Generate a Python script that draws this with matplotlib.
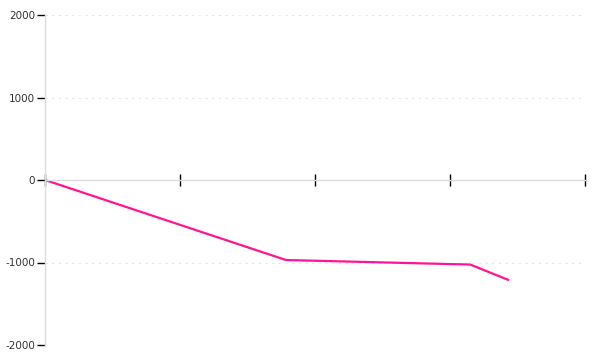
import matplotlib
matplotlib.use("Agg")
import matplotlib.pyplot as plt

# data
x_vals = [0, 1.785, 3.15, 3.43]
y_vals = [0, -970, -1025, -1210]
y_ticks = [-2000, -1000, 0, 1000, 2000]
x_ticks = [0, 1, 2, 3, 4]

fig = plt.figure(figsize=(6, 3.6), dpi=100)
ax = fig.add_axes([45 / 600, 1 - 345 / 360, 540 / 600, 330 / 360])

ax.plot(x_vals, y_vals, color="#ff1493", linewidth=1.6, solid_joinstyle="miter")

ax.set_xlim(0, 4)
ax.set_ylim(-2000, 2000)
ax.set_xticks(x_ticks)
ax.set_xticklabels([])
ax.set_yticks(y_ticks)
ax.set_yticklabels([str(v) for v in y_ticks])

# grid
ax.yaxis.grid(True, linestyle=(0, (2, 4)), color="#e6e6e6", linewidth=0.8)
ax.set_axisbelow(True)

# spines
for s in ["top", "right"]:
    ax.spines[s].set_visible(False)
ax.spines["left"].set_color("#dddddd")
ax.spines["left"].set_linewidth(1)
ax.spines["bottom"].set_position(("data", 0))
ax.spines["bottom"].set_color("#dddddd")
ax.spines["bottom"].set_linewidth(1)

ax.tick_params(axis="x", direction="inout", length=8, width=1, color="black")
ax.tick_params(axis="y", direction="out", length=6, width=1, color="black",
               labelsize=7.5, labelcolor="#333333", pad=1)

fig.savefig("out.png", dpi=100)
